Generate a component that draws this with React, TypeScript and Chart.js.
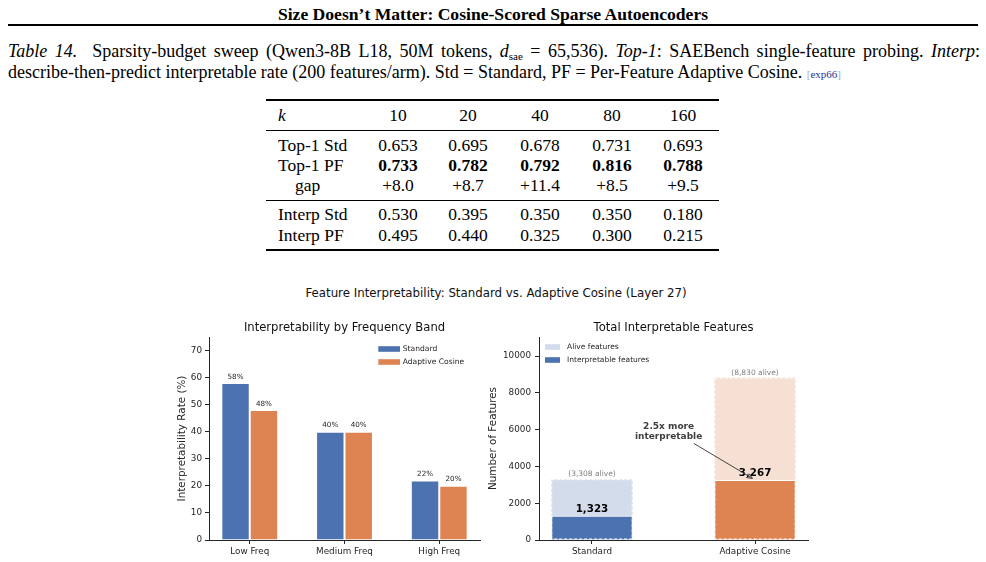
import React, { useEffect, useRef } from 'react';
import { Chart, registerables } from 'chart.js';

Chart.register(...registerables);

// ---- Table 14: sparsity-budget sweep ----
const kValues = ['10', '20', '40', '80', '160'];
const top1Std = [0.653, 0.695, 0.678, 0.731, 0.693];
const top1PF = [0.733, 0.782, 0.792, 0.816, 0.788];
const top1Gap = [8.0, 8.7, 11.4, 8.5, 9.5];
const interpStd = [0.53, 0.395, 0.35, 0.35, 0.18];
const interpPF = [0.495, 0.44, 0.325, 0.3, 0.215];

// ---- Interpretability by frequency band (%) ----
const bands = ['Low Freq', 'Medium Freq', 'High Freq'];
const bandStandard = [58, 40, 22];
const bandAdaptive = [48, 40, 20];
const bandTicks = [0, 10, 20, 30, 40, 50, 60, 70];

// ---- Total interpretable features ----
const methods = ['Standard', 'Adaptive Cosine'];
const aliveFeatures = [3308, 8830];
const interpretableFeatures = [1323, 3267];
const totalTicks = [0, 2000, 4000, 6000, 8000, 10000];

const BLUE = '#4C72B0';
const ORANGE = '#DD8452';
const BLUE_LIGHT = '#D2DCEB';
const ORANGE_LIGHT = '#F6E0D4';
const INK = '#262626';
const SANS = '"DejaVu Sans", sans-serif';
const SERIF = '"Liberation Serif", "Times New Roman", serif';

const fmt = (n: number) => n.toLocaleString('en-US');

function axisStyle(extra: any) {
  return {
    bounds: 'data',
    offset: false,
    grid: {
      display: true,
      drawOnChartArea: false,
      drawTicks: true,
      offset: false,
      tickLength: 4,
      tickColor: INK,
      tickWidth: 1,
    },
    border: { display: true, color: INK, width: 1 },
    ticks: {
      color: INK,
      font: { family: 'DejaVu Sans', size: 8.8 },
      autoSkip: false,
      maxRotation: 0,
      minRotation: 0,
    },
    ...extra,
  };
}

const bandOverlay = {
  id: 'bandOverlay',
  afterDatasetsDraw(chart: any) {
    const { ctx, chartArea: a } = chart;
    ctx.save();
    ctx.fillStyle = INK;
    ctx.textAlign = 'center';
    ctx.textBaseline = 'alphabetic';
    ctx.font = `7.2px ${SANS}`;
    [bandStandard, bandAdaptive].forEach((vals, di) => {
      chart.getDatasetMeta(di).data.forEach((bar: any, i: number) => {
        ctx.fillText(`${vals[i]}%`, bar.x, bar.y - 4.5);
      });
    });

    ctx.fillStyle = '#111';
    ctx.font = `11.6px ${SANS}`;
    ctx.fillText('Interpretability by Frequency Band', (a.left + a.right) / 2, a.top - 6);

    ctx.save();
    ctx.translate(a.left - 26.5, (a.top + a.bottom) / 2);
    ctx.rotate(-Math.PI / 2);
    ctx.textBaseline = 'middle';
    ctx.font = `10.4px ${SANS}`;
    ctx.fillStyle = INK;
    ctx.fillText('Interpretability Rate (%)', 0, 0);
    ctx.restore();

    // legend
    ctx.textAlign = 'left';
    ctx.textBaseline = 'middle';
    ctx.font = `7.6px ${SANS}`;
    chart.data.datasets.forEach((ds: any, i: number) => {
      const y = a.top + 12 + i * 13;
      ctx.fillStyle = ds.backgroundColor;
      ctx.fillRect(a.right - 101.7, y - 2.8, 21.7, 5.6);
      ctx.fillStyle = INK;
      ctx.fillText(ds.label, a.right - 77.3, y);
    });
    ctx.restore();
  },
};

const totalsOverlay = {
  id: 'totalsOverlay',
  afterDatasetsDraw(chart: any) {
    const { ctx, chartArea: a, scales } = chart;
    const xs = scales.x;
    const ys = scales.y;
    ctx.save();

    // dashed white edges on the alive bars
    const aliveMeta = chart.getDatasetMeta(1);
    ctx.strokeStyle = '#ffffff';
    ctx.lineWidth = 1;
    ctx.setLineDash([3, 2]);
    aliveMeta.data.forEach((bar: any) => {
      const left = bar.x - bar.width / 2;
      ctx.strokeRect(left + 0.5, bar.y + 0.5, bar.width - 1, bar.base - bar.y - 1);
    });
    ctx.setLineDash([]);

    ctx.textAlign = 'center';
    ctx.textBaseline = 'alphabetic';
    ctx.fillStyle = '#808080';
    ctx.font = `7.5px ${SANS}`;
    aliveMeta.data.forEach((bar: any, i: number) => {
      ctx.fillText(`(${fmt(aliveFeatures[i])} alive)`, bar.x, bar.y - 3);
    });

    ctx.fillStyle = '#000';
    ctx.font = `bold 10.3px ${SANS}`;
    chart.getDatasetMeta(0).data.forEach((bar: any, i: number) => {
      ctx.fillText(fmt(interpretableFeatures[i]), bar.x, bar.y - 4);
    });

    // ratio annotation with arrow
    const ratio = (interpretableFeatures[1] / interpretableFeatures[0]).toFixed(1);
    const tx = xs.getPixelForValue(0.47);
    const ty = ys.getPixelForValue(5870);
    ctx.fillStyle = '#404040';
    ctx.font = `bold 9px ${SANS}`;
    ctx.textBaseline = 'middle';
    ctx.fillText(`${ratio}x more`, tx, ty - 5);
    ctx.fillText('interpretable', tx, ty + 5);

    const x0 = xs.getPixelForValue(0.625);
    const y0 = ys.getPixelForValue(5250);
    const tgtX = xs.getPixelForValue(1);
    const tgtY = ys.getPixelForValue(interpretableFeatures[1]);
    const ang = Math.atan2(tgtY - y0, tgtX - x0);
    const x1 = tgtX - Math.cos(ang) * 3;
    const y1 = tgtY - Math.sin(ang) * 3;
    ctx.strokeStyle = '#444';
    ctx.lineWidth = 1;
    ctx.beginPath();
    ctx.moveTo(x0, y0);
    ctx.lineTo(x1, y1);
    const head = 6;
    ctx.moveTo(x1 - head * Math.cos(ang - 0.4), y1 - head * Math.sin(ang - 0.4));
    ctx.lineTo(x1, y1);
    ctx.lineTo(x1 - head * Math.cos(ang + 0.4), y1 - head * Math.sin(ang + 0.4));
    ctx.stroke();

    ctx.textAlign = 'center';
    ctx.textBaseline = 'alphabetic';
    ctx.fillStyle = '#111';
    ctx.font = `11.6px ${SANS}`;
    ctx.fillText('Total Interpretable Features', (a.left + a.right) / 2, a.top - 6);

    ctx.save();
    ctx.translate(a.left - 46, (a.top + a.bottom) / 2);
    ctx.rotate(-Math.PI / 2);
    ctx.textBaseline = 'middle';
    ctx.font = `10.4px ${SANS}`;
    ctx.fillStyle = INK;
    ctx.fillText('Number of Features', 0, 0);
    ctx.restore();

    // legend
    ctx.textAlign = 'left';
    ctx.textBaseline = 'middle';
    ctx.font = `7.5px ${SANS}`;
    const items = [
      { label: 'Alive features', color: BLUE_LIGHT },
      { label: 'Interpretable features', color: BLUE },
    ];
    items.forEach((it, i) => {
      const y = a.top + 10 + i * 13;
      ctx.fillStyle = it.color;
      ctx.fillRect(a.left + 6, y - 2.8, 15, 5.6);
      ctx.fillStyle = INK;
      ctx.fillText(it.label, a.left + 28, y);
    });
    ctx.restore();
  },
};

function FrequencyBandChart() {
  const ref = useRef<HTMLCanvasElement>(null);
  useEffect(() => {
    const chart = new Chart(ref.current as HTMLCanvasElement, {
      type: 'bar',
      data: {
        datasets: [
          {
            label: 'Standard',
            data: bandStandard.map((y, x) => ({ x, y })),
            backgroundColor: BLUE,
            borderColor: '#ffffff',
            borderWidth: 1,
            categoryPercentage: 0.6,
            barPercentage: 1,
          },
          {
            label: 'Adaptive Cosine',
            data: bandAdaptive.map((y, x) => ({ x, y })),
            backgroundColor: ORANGE,
            borderColor: '#ffffff',
            borderWidth: 1,
            categoryPercentage: 0.6,
            barPercentage: 1,
          },
        ] as any,
      },
      options: {
        animation: false,
        responsive: false,
        maintainAspectRatio: false,
        events: [],
        layout: { padding: { top: 37, right: 10, left: 0, bottom: 0 } },
        plugins: { legend: { display: false }, tooltip: { enabled: false } },
        scales: {
          x: axisStyle({
            type: 'linear',
            min: -0.43,
            max: 2.43,
            afterBuildTicks: (s: any) => {
              s.ticks = bands.map((_, i) => ({ value: i }));
            },
            afterFit: (s: any) => {
              s.height = 22;
            },
            ticks: {
              ...axisStyle({}).ticks,
              padding: 2,
              callback: (v: any) => bands[v] ?? '',
            },
          }),
          y: axisStyle({
            type: 'linear',
            min: 0,
            max: 75,
            afterBuildTicks: (s: any) => {
              s.ticks = bandTicks.map((value) => ({ value }));
            },
            afterFit: (s: any) => {
              s.width = 59;
            },
            ticks: { ...axisStyle({}).ticks, padding: 3, callback: (v: any) => String(v) },
          }),
        } as any,
      },
      plugins: [bandOverlay],
    });
    return () => chart.destroy();
  }, []);
  return (
    <canvas
      ref={ref}
      width={340}
      height={262}
      style={{ position: 'absolute', left: 150, top: 300, width: 340, height: 262 }}
    />
  );
}

function TotalsChart() {
  const ref = useRef<HTMLCanvasElement>(null);
  useEffect(() => {
    const chart = new Chart(ref.current as HTMLCanvasElement, {
      type: 'bar',
      data: {
        datasets: [
          {
            label: 'Interpretable features',
            data: interpretableFeatures.map((y, x) => ({ x, y })),
            backgroundColor: [BLUE, ORANGE],
            borderColor: '#ffffff',
            borderWidth: 1,
            grouped: false,
            categoryPercentage: 0.5,
            barPercentage: 1,
          },
          {
            label: 'Alive features',
            data: aliveFeatures.map((y, x) => ({ x, y })),
            backgroundColor: [BLUE_LIGHT, ORANGE_LIGHT],
            borderWidth: 0,
            grouped: false,
            categoryPercentage: 0.5,
            barPercentage: 1,
          },
        ] as any,
      },
      options: {
        animation: false,
        responsive: false,
        maintainAspectRatio: false,
        events: [],
        layout: { padding: { top: 37, right: 12, left: 0, bottom: 0 } },
        plugins: { legend: { display: false }, tooltip: { enabled: false } },
        scales: {
          x: axisStyle({
            type: 'linear',
            min: -0.325,
            max: 1.325,
            afterBuildTicks: (s: any) => {
              s.ticks = methods.map((_, i) => ({ value: i }));
            },
            afterFit: (s: any) => {
              s.height = 22;
            },
            ticks: {
              ...axisStyle({}).ticks,
              padding: 2,
              callback: (v: any) => methods[v] ?? '',
            },
          }),
          y: axisStyle({
            type: 'linear',
            min: 0,
            max: Math.max(...aliveFeatures) * 1.25,
            afterBuildTicks: (s: any) => {
              s.ticks = totalTicks.map((value) => ({ value }));
            },
            afterFit: (s: any) => {
              s.width = 69;
            },
            ticks: { ...axisStyle({}).ticks, padding: 4, callback: (v: any) => String(v) },
          }),
        } as any,
      },
      plugins: [totalsOverlay],
    });
    return () => chart.destroy();
  }, []);
  return (
    <canvas
      ref={ref}
      width={350}
      height={262}
      style={{ position: 'absolute', left: 470, top: 300, width: 350, height: 262 }}
    />
  );
}

const colCenters = [398, 468, 540, 612, 683];

function Cell({ x, y, children, bold, left }: any) {
  return (
    <div
      style={{
        position: 'absolute',
        left: x,
        top: y - 10,
        height: 20,
        lineHeight: '20px',
        whiteSpace: 'nowrap',
        transform: left ? undefined : 'translateX(-50%)',
        fontWeight: bold ? 'bold' : 'normal',
      }}
    >
      {children}
    </div>
  );
}

function SweepTable() {
  const rows = [
    { label: 'Top-1 Std', y: 145, vals: top1Std.map((v) => v.toFixed(3)) },
    { label: 'Top-1 PF', y: 165, vals: top1PF.map((v) => v.toFixed(3)), bold: true },
    { label: 'gap', y: 185, vals: top1Gap.map((v) => `+${v.toFixed(1)}`), indent: 17 },
    { label: 'Interp Std', y: 214, vals: interpStd.map((v) => v.toFixed(3)) },
    { label: 'Interp PF', y: 235, vals: interpPF.map((v) => v.toFixed(3)) },
  ];
  const rule = (top: number, h: number) => (
    <div style={{ position: 'absolute', left: 266, width: 453, top, height: h, background: '#000' }} />
  );
  return (
    <div style={{ position: 'absolute', left: 0, top: 0, fontSize: 17.5, fontFamily: SERIF }}>
      {rule(99, 2)}
      <Cell x={278} y={115} left>
        <i>k</i>
      </Cell>
      {kValues.map((k, i) => (
        <Cell key={k} x={colCenters[i]} y={115}>
          {k}
        </Cell>
      ))}
      {rule(130, 1)}
      {rows.map((r) => (
        <React.Fragment key={r.label}>
          <Cell x={278 + (r.indent || 0)} y={r.y} left>
            {r.label}
          </Cell>
          {r.vals.map((v, i) => (
            <Cell key={i} x={colCenters[i]} y={r.y} bold={r.bold}>
              {v}
            </Cell>
          ))}
        </React.Fragment>
      ))}
      {rule(200, 1)}
      {rule(249, 2)}
    </div>
  );
}

export default function App() {
  useEffect(() => {
    document.body.style.margin = '0';
  }, []);
  return (
    <div
      style={{
        position: 'absolute',
        left: 0,
        top: 0,
        width: 986,
        height: 562,
        overflow: 'hidden',
        background: '#ffffff',
        color: '#000',
        fontFamily: SERIF,
      }}
    >
      <div
        style={{
          position: 'absolute',
          left: 0,
          top: 4,
          width: 986,
          textAlign: 'center',
          fontWeight: 'bold',
          fontSize: 17.6,
          lineHeight: '20px',
          whiteSpace: 'nowrap',
        }}
      >
        Size Doesn’t Matter: Cosine-Scored Sparse Autoencoders
      </div>
      <div style={{ position: 'absolute', left: 8, width: 970, top: 24, height: 2, background: '#000' }} />

      <div
        style={{
          position: 'absolute',
          left: 8,
          width: 972,
          top: 41,
          fontSize: 18,
          lineHeight: '20px',
          whiteSpace: 'nowrap',
          textAlign: 'justify',
          textAlignLast: 'justify',
        }}
      >
        <i>Table 14.</i>&nbsp; Sparsity-budget sweep (Qwen3-8B L18, 50M tokens, <i>d</i>
        <span style={{ fontSize: 11, position: 'relative', top: 3 }}>sae</span> = 65,536). <i>Top-1</i>: SAEBench
        single-feature probing. <i>Interp</i>:
      </div>
      <div
        style={{
          position: 'absolute',
          left: 8,
          top: 62,
          fontSize: 18,
          lineHeight: '20px',
          whiteSpace: 'nowrap',
        }}
      >
        describe-then-predict interpretable rate (200 features/arm). Std = Standard, PF = Per-Feature Adaptive Cosine.{' '}
        <span style={{ fontSize: 11 }}>
          <span style={{ color: '#a4aac4' }}>[</span>
          <span style={{ color: '#22389a' }}>exp66</span>
          <span style={{ color: '#a4aac4' }}>]</span>
        </span>
      </div>

      <SweepTable />

      <div
        style={{
          position: 'absolute',
          left: 496,
          top: 285,
          transform: 'translateX(-50%)',
          fontFamily: SANS,
          fontSize: 11.8,
          lineHeight: '16px',
          whiteSpace: 'nowrap',
          color: '#111',
        }}
      >
        Feature Interpretability: Standard vs. Adaptive Cosine (Layer 27)
      </div>

      <FrequencyBandChart />
      <TotalsChart />
    </div>
  );
}
